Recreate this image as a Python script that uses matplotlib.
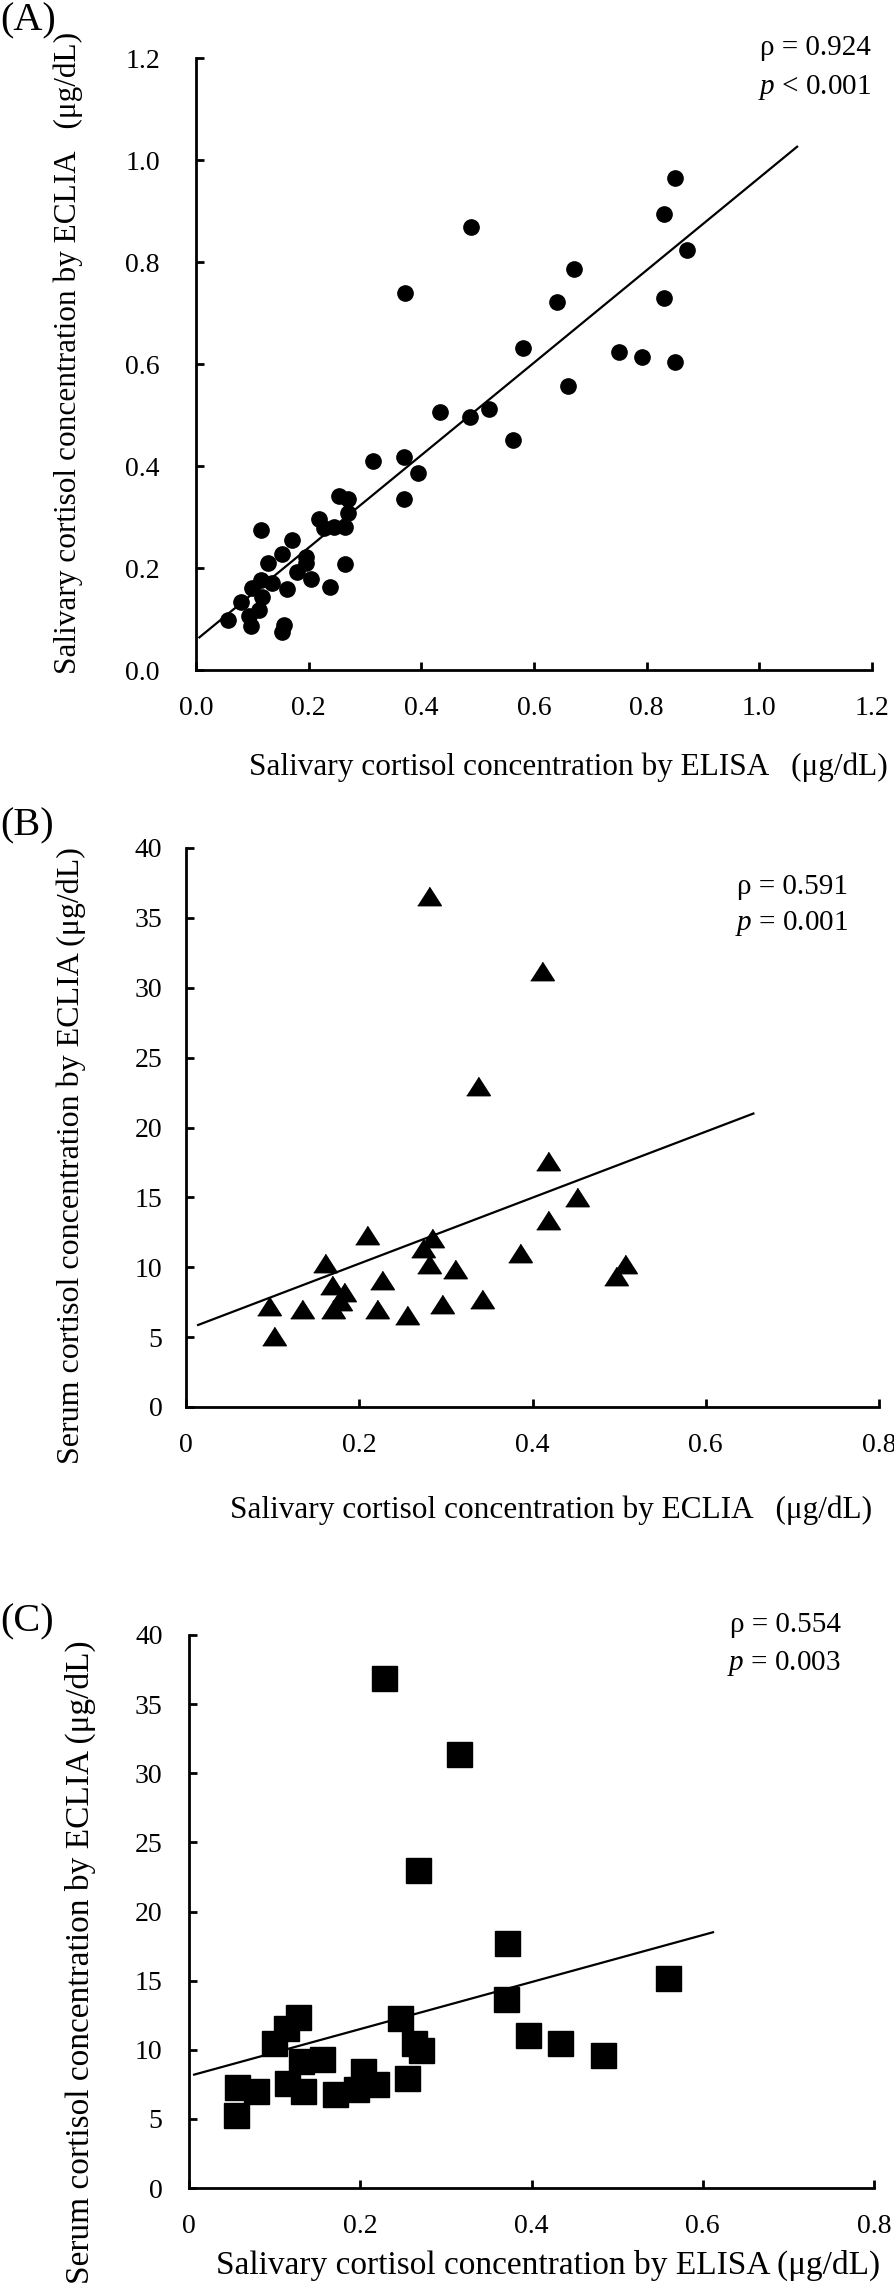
import matplotlib.pyplot as plt
import numpy as np

plt.rcParams['font.family'] = ['Liberation Serif', 'DejaVu Serif']
plt.rcParams['mathtext.fontset'] = 'custom'
plt.rcParams['mathtext.rm'] = 'Liberation Serif'
plt.rcParams['mathtext.it'] = 'Liberation Serif:italic'

# panel A: salivary ELISA vs salivary ECLIA
a_x = [0.056, 0.080, 0.094, 0.097, 0.099, 0.112, 0.117, 0.115, 0.115, 0.127,
       0.135, 0.153, 0.156, 0.153, 0.161, 0.171, 0.180, 0.195, 0.196, 0.204,
       0.218, 0.227, 0.238, 0.245, 0.254, 0.264, 0.264, 0.270, 0.270, 0.314,
       0.371, 0.370, 0.370, 0.394, 0.434, 0.486, 0.489, 0.520, 0.562, 0.581,
       0.641, 0.661, 0.671, 0.750, 0.791, 0.830, 0.830, 0.851, 0.851, 0.871]
a_y = [0.098, 0.134, 0.105, 0.086, 0.160, 0.118, 0.144, 0.176, 0.275, 0.209,
       0.170, 0.075, 0.088, 0.227, 0.159, 0.255, 0.192, 0.222, 0.209, 0.179,
       0.297, 0.278, 0.162, 0.281, 0.341, 0.280, 0.208, 0.335, 0.308, 0.410,
       0.739, 0.418, 0.335, 0.387, 0.506, 0.496, 0.868, 0.512, 0.451, 0.632,
       0.721, 0.556, 0.786, 0.624, 0.613, 0.895, 0.729, 0.965, 0.604, 0.823]
a_fit_x = [0.006, 1.067]
a_fit_y = [0.064, 1.026]

# panel B: salivary ECLIA vs serum ECLIA
b_x = [0.096, 0.102, 0.134, 0.160, 0.168, 0.170, 0.178, 0.182, 0.209, 0.221,
       0.226, 0.255, 0.274, 0.281, 0.284, 0.281, 0.296, 0.310, 0.337, 0.342,
       0.385, 0.411, 0.418, 0.418, 0.451, 0.496, 0.507]
b_y = [7.2, 5.1, 7.0, 10.3, 8.7, 7.0, 7.6, 8.2, 12.3, 7.0,
       9.1, 6.6, 11.4, 36.6, 12.1, 10.2, 7.4, 9.85, 23.0, 7.7,
       11.0, 31.2, 13.4, 17.6, 15.05, 9.4, 10.2]
b_fit_x = [0.014, 0.655]
b_fit_y = [5.87, 21.0]

# panel C: salivary ELISA vs serum ECLIA
c_x = [0.056, 0.055, 0.078, 0.099, 0.113, 0.127, 0.115, 0.131, 0.133, 0.155,
       0.171, 0.195, 0.203, 0.218, 0.228, 0.247, 0.255, 0.263, 0.271, 0.268,
       0.315, 0.371, 0.370, 0.396, 0.433, 0.483, 0.559]
c_y = [7.34, 5.3, 7.05, 10.5, 11.6, 12.4, 7.6, 9.2, 7.05, 9.36,
       6.8, 7.16, 8.44, 7.5, 36.9, 12.3, 7.96, 10.46, 10.0, 23.0,
       31.4, 17.7, 13.65, 11.08, 10.46, 9.65, 15.2]
c_fit_x = [0.006, 0.612]
c_fit_y = [8.2, 18.5]

W, H = 894, 2287
fig = plt.figure(figsize=(W / 100, H / 100), dpi=100)


def box(l, t, r, b):
    return [l / W, 1 - b / H, (r - l) / W, (b - t) / H]


def style(ax, xmax, xt, xtl, ymax, yt, ytl, ypad):
    ax.set_xlim(0, xmax)
    ax.set_ylim(0, ymax)
    ax.set_xticks(xt)
    ax.set_xticklabels(xtl)
    ax.set_yticks(yt)
    ax.set_yticklabels(ytl)
    for s in ['top', 'right']:
        ax.spines[s].set_visible(False)
    for s in ['left', 'bottom']:
        ax.spines[s].set_linewidth(2)
    ax.tick_params(axis='both', direction='in', length=6, width=2, labelsize=20)
    ax.tick_params(axis='x', pad=19)
    ax.tick_params(axis='y', pad=ypad)
    ax.patch.set_alpha(0)


def ftext(x, y, s, **kw):
    fig.text(x / W, 1 - y / H, s, **kw)


# (A)
ax = fig.add_axes(box(196, 58, 872, 670))
ax.plot(a_fit_x, a_fit_y, color='black', lw=1.6)
ax.plot(a_x, a_y, 'o', color='black', ms=11, mec='black')
style(ax, 1.2, np.arange(0, 1.21, 0.2), ['0.0', '0.2', '0.4', '0.6', '0.8', '1.0', '1.2'],
      1.2, np.arange(0, 1.21, 0.2), ['0.0', '0.2', '0.4', '0.6', '0.8', '1.0', '1.2'], 26)
ftext(0, 21, '(A)', fontsize=29, ha='left', va='center')
ftext(871, 48, 'ρ = 0.924', fontsize=21, ha='right', va='center')
ftext(871, 87, '$\\it{p}$ < 0.001', fontsize=21, ha='right', va='center')
ftext(888, 767, 'Salivary cortisol concentration by ELISA   (μg/dL)', fontsize=22.5,
      ha='right', va='center')
ftext(68, 353, 'Salivary cortisol concentration by ECLIA   (μg/dL)', fontsize=22.5,
      ha='center', va='center', rotation=90)

# (B)
tri = [(-1, -0.78), (1, -0.78), (0, 0.78)]
ax = fig.add_axes(box(186, 848, 879, 1407))
ax.plot(b_fit_x, b_fit_y, color='black', lw=1.6)
ax.plot(b_x, b_y, linestyle='none', marker=tri, color='black', ms=17)
style(ax, 0.8, [0, 0.2, 0.4, 0.6, 0.8], ['0', '0.2', '0.4', '0.6', '0.8'],
      40, range(0, 41, 5), [str(v) for v in range(0, 41, 5)], 17)
ftext(0, 826, '(B)', fontsize=29, ha='left', va='center')
ftext(848, 887, 'ρ = 0.591', fontsize=21, ha='right', va='center')
ftext(848, 924, '$\\it{p}$ = 0.001', fontsize=21, ha='right', va='center')
ftext(872, 1510, 'Salivary cortisol concentration by ECLIA   (μg/dL)', fontsize=22.5,
      ha='right', va='center')
ftext(71, 1156, 'Serum cortisol concentration by ECLIA (μg/dL)', fontsize=23,
      ha='center', va='center', rotation=90)

# (C)
ax = fig.add_axes(box(189, 1635, 874, 2188))
ax.plot(c_fit_x, c_fit_y, color='black', lw=1.6)
ax.plot(c_x, c_y, 's', color='black', ms=18)
style(ax, 0.8, [0, 0.2, 0.4, 0.6, 0.8], ['0', '0.2', '0.4', '0.6', '0.8'],
      40, range(0, 41, 5), [str(v) for v in range(0, 41, 5)], 19)
ftext(0, 1622, '(C)', fontsize=29, ha='left', va='center')
ftext(841, 1625, 'ρ = 0.554', fontsize=21, ha='right', va='center')
ftext(841, 1663, '$\\it{p}$ = 0.003', fontsize=21, ha='right', va='center')
ftext(880, 2265, 'Salivary cortisol concentration by ELISA (μg/dL)', fontsize=24,
      ha='right', va='center')
ftext(80, 1962, 'Serum cortisol concentration by ECLIA (μg/dL)', fontsize=24,
      ha='center', va='center', rotation=90)

fig.savefig('out.png', dpi=100)
